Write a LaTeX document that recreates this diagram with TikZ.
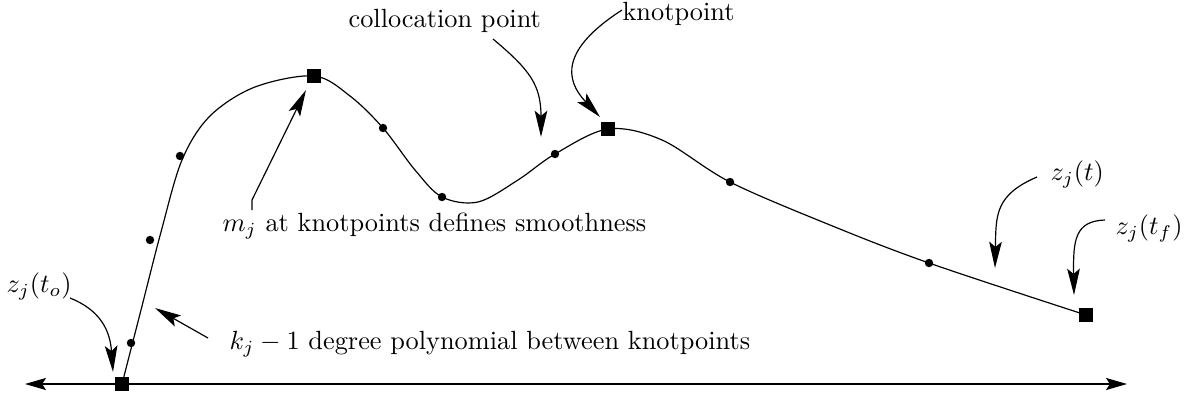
\documentclass[tikz,border=0pt]{standalone}
\usepackage{amsmath,amssymb}
\usepackage{tikz}
\usetikzlibrary{arrows.meta}

\tikzset{
  knot/.style={draw, fill, rectangle, minimum size=5pt, inner sep=0pt},
  colpt/.style={fill, circle, minimum size=3.2pt, inner sep=0pt},
  lbl/.style={anchor=west, inner sep=0pt},
  tip/.style={-{Stealth[length=10pt,width=4.8pt,inset=2pt]}},
  axtip/.style={{Stealth[length=8pt,width=4.6pt,inset=1.5pt]}-{Stealth[length=8pt,width=4.6pt,inset=1.5pt]}},
}

\begin{document}
\begin{tikzpicture}[x=0.38pt, y=-0.38pt, line width=0.45pt]
      \useasboundingbox (0,0) rectangle (1188,396);

      \node[knot] (k0) at (122,384) {};
      \node[knot] (k1) at (314,76) {};
      \node[knot] (k2) at (608,129) {};
      \node[knot] (k3) at (1086,315) {};

      \node[colpt] (c1) at (131,343) {};
      \node[colpt] (c2) at (150,240) {};
      \node[colpt] (c3) at (180,156) {};
      \node[colpt] (c4) at (383,128) {};
      \node[colpt] (c5) at (442,197) {};
      \node[colpt] (c6) at (555,154) {};
      \node[colpt] (c7) at (730,182) {};
      \node[colpt] (c8) at (929,263) {};

      \coordinate (axl) at (25,384);
      \coordinate (axr) at (1127,384);
      \draw[axtip] (axl) -- (axr);

      \draw plot[smooth, tension=0.55] coordinates {(122,384) (141,310) (161,232) (182,160) (210,116) (255,87) (314,76) (350,96) (383,128) (415,170) (442,197) (478,202) (518,180) (555,154) (608,129) (662,140) (730,182) (830,225) (929,263) (1086,315)};

      \node[lbl] (lcol) at (348,21) {collocation point};
      \node[lbl] (lknot) at (622,14) {knotpoint};
      \node[lbl] (lsmooth) at (222,226) {$m_j$ at knotpoints defines smoothness};
      \node[lbl] (lpoly) at (229,344) {$k_j-1$ degree polynomial between knotpoints};
      \node[lbl] (lzo) at (6,286) {$z_j(t_o)$};
      \node[lbl] (lzt) at (1050,174) {$z_j(t)$};
      \node[lbl] (lztf) at (1115,228) {$z_j(t_f)$};

      \coordinate (acol) at (493,39);
      \coordinate (tcol) at (541,137);
      \coordinate (aknot) at (622,10);
      \coordinate (tknot) at (600,117);
      \coordinate (asmooth) at (252,210);
      \coordinate (bsmooth) at (252,200);
      \coordinate (tsmooth) at (306,90);
      \coordinate (apoly) at (208,338);
      \coordinate (tpoly) at (155,308);
      \coordinate (azo) at (70,298);
      \coordinate (tzo) at (113,372);
      \coordinate (azt) at (1037,177);
      \coordinate (tzt) at (995,268);
      \coordinate (aztf) at (1105,220);
      \coordinate (tztf) at (1074,295);

      \draw[tip] (acol) .. controls (530,70) and (541,85) .. (tcol);
      \draw[tip] (aknot) .. controls (560,50) and (565,80) .. (tknot);
      \draw[tip] (asmooth) -- (bsmooth) -- (tsmooth);
      \draw[tip] (apoly) -- (tpoly);
      \draw[tip] (azo) .. controls (100,310) and (110,330) .. (tzo);
      \draw[tip] (azt) .. controls (995,195) and (996,215) .. (tzt);
      \draw[tip] (aztf) .. controls (1075,221) and (1073,240) .. (tztf);
\end{tikzpicture}
\end{document}
